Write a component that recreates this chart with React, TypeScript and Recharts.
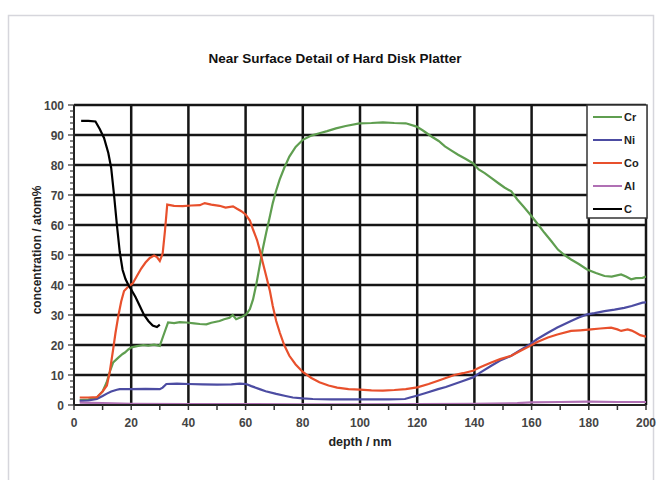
import React from 'react';
import { LineChart, Line, XAxis, YAxis, CartesianGrid, Customized } from 'recharts';

// ---- data (depth in nm, concentration in atom%) ----
const crDepth = [2, 5, 8, 10, 11.4, 12.5, 13.7, 15.5, 17, 17.8, 19, 20.1, 22, 24.2, 26, 28, 30, 31.2, 32.9, 35, 37, 39.3, 42, 44, 46.3, 48, 50.9, 52.5, 54.4, 55.5, 56.7, 58.5, 60.2, 61.5, 62.6, 63.8, 64.9, 66, 67.2, 68.4, 69.5, 70.7, 71.9, 73.5, 75.3, 77.5, 80, 83, 85.8, 88.5, 91.6, 95, 99.8, 104, 108, 112, 116, 119.8, 122, 125, 127.5, 129.7, 132, 134.3, 137, 139.5, 141.5, 143.6, 146, 148.3, 150.5, 152.9, 155, 157.3, 159.5, 162, 164.5, 167, 169.2, 171.5, 173.8, 176.5, 179.4, 182.5, 185.5, 188, 191.3, 193, 194.8, 196.5, 198.8, 200];
const crValues = [1.6, 1.8, 2.5, 4.5, 7.5, 11, 14.2, 15.8, 17, 17.5, 18.5, 19.2, 19.6, 20, 19.8, 20.1, 19.7, 23, 27.5, 27.3, 27.6, 27.5, 27.2, 27, 26.9, 27.4, 28, 28.6, 29.1, 30, 28.6, 29.3, 30.2, 32, 35.2, 40.5, 46.3, 52, 57.4, 62.5, 67.3, 71.5, 75.1, 79, 82.8, 86, 88.4, 89.8, 90.6, 91.3, 92.2, 93, 93.9, 94, 94.2, 94, 93.9, 92.8, 91.5, 89.5, 88, 86.2, 84.8, 83.4, 82, 80.6, 78.5, 77.3, 75.6, 74, 72.5, 71.2, 68.5, 66, 63.5, 60.5, 57.4, 54.5, 51.8, 50, 48.5, 47, 45.2, 44, 43, 42.8, 43.5, 42.8, 41.9, 42.3, 42.4, 42.8];

const niDepth = [2, 5, 8, 10, 11.5, 13, 15, 16, 20, 25, 30, 31, 32.3, 36, 40, 45, 50, 55, 58, 60.2, 62, 64.9, 67, 70.7, 74, 76.5, 80, 83.5, 90, 100, 110, 115.7, 117.5, 119.8, 123, 127.3, 130, 133, 136, 139.5, 142, 145.9, 149, 152.9, 156, 159.5, 162, 165.7, 169, 173.8, 176.5, 179.4, 182, 185.5, 189, 192.4, 195, 198.8, 200];
const niValues = [1.4, 1.5, 2, 3, 3.8, 4.5, 5.1, 5.3, 5.3, 5.4, 5.3, 5.8, 7, 7.1, 7, 6.9, 6.8, 6.9, 7.1, 7, 6.3, 5.3, 4.6, 3.7, 3, 2.5, 2.2, 2, 1.9, 1.9, 1.9, 2, 2.5, 3.1, 4, 5.3, 6, 7, 8, 9.2, 10.8, 13.1, 14.8, 16.4, 18.3, 20.3, 22, 24.1, 25.8, 28, 29.2, 30.2, 30.6, 31.3, 31.8, 32.4, 33, 34.1, 34.2];

const coDepth = [2, 5, 8, 10, 11.5, 12.5, 13.7, 14.5, 15.5, 16.5, 17.5, 19, 20.5, 22, 23.5, 25, 26.5, 28, 29, 30, 31, 31.8, 32.6, 35, 38, 41, 44, 45.7, 48, 50.9, 53, 55.6, 57, 58.5, 60, 61.5, 62.6, 64, 65, 66, 67.2, 68.5, 69.5, 70.7, 72, 73.5, 75.3, 77.5, 80, 83, 85.8, 89, 92, 96, 100, 104, 108, 112, 116, 120, 124, 127.3, 130, 133, 136, 139.5, 142, 145.9, 149, 152.9, 156, 159.5, 162, 165.7, 169, 173.8, 177, 180.8, 184, 187.8, 190, 191.3, 193.6, 195, 196.5, 198, 200];
const coValues = [2.5, 2.5, 2.6, 4.5, 6.5, 11, 18.6, 24, 29.7, 34.5, 38, 39.5, 40.5, 43, 45.5, 47.5, 49, 49.8, 49.3, 48, 50.5, 58, 66.8, 66.4, 66.3, 66.5, 66.6, 67.3, 66.8, 66.4, 65.8, 66.2, 65.4, 64.6, 63.5, 61.5, 58.5, 55, 51.5, 47.5, 43, 38, 33, 28, 24, 20, 16.4, 13.5, 11, 9, 7.6, 6.5, 5.8, 5.3, 5.1, 4.9, 4.8, 5, 5.3, 5.9, 7, 8.1, 9, 10, 10.6, 11.4, 12.6, 14.2, 15.3, 16.4, 18, 19.7, 21, 22.5, 23.5, 24.7, 24.9, 25.2, 25.5, 25.8, 25.2, 24.7, 25.2, 24.8, 24.1, 23.3, 22.8];

const alDepth = [2, 10, 20, 40, 60, 80, 100, 120, 140, 155, 160, 170, 180, 190, 200];
const alValues = [0.8, 0.6, 0.4, 0.3, 0.3, 0.2, 0.2, 0.3, 0.4, 0.6, 0.9, 1, 1.1, 1, 1];

const cDepth = [2.5, 5, 7.5, 9, 10.5, 12, 13, 14, 15, 16, 17, 18, 19, 20, 21.5, 23, 24.5, 26, 27.5, 29, 30];
const cValues = [94.7, 94.7, 94.5, 92, 89, 84, 79, 70, 60, 51, 45, 42, 40, 38.5, 36, 33, 30, 28, 26.5, 26, 26.8];

const seriesNames = ['Cr', 'Ni', 'Co', 'Al', 'C'];
const seriesColors = ['#5f9e50', '#4c4ca2', '#e8502c', '#b070b4', '#000000'];

const xTicks = [0, 10, 20, 30, 40, 50, 60, 70, 80, 90, 100, 110, 120, 130, 140, 150, 160, 170, 180, 190, 200];
const xGrid = [20, 40, 60, 80, 100, 120, 140, 160, 180, 200];
const yTicks = Array.from({ length: 51 }, (_, i) => i * 2);
const yGrid = [10, 20, 30, 40, 50, 60, 70, 80, 90, 100];

const titleText = 'Near Surface Detail of Hard Disk Platter';
const xLabel = 'depth / nm';
const yLabel = 'concentration / atom%';

const toPoints = (ds: number[], vs: number[]) => ds.map((d, i) => ({ depth: d, value: vs[i] }));
const seriesData = [
  toPoints(crDepth, crValues),
  toPoints(niDepth, niValues),
  toPoints(coDepth, coValues),
  toPoints(alDepth, alValues),
  toPoints(cDepth, cValues),
];

const FONT = 'Liberation Sans, Arial, sans-serif';

const XTick = (props: any) => {
  const { x, y, payload } = props;
  const v = payload.value;
  const major = v % 20 === 0;
  return (
    <g>
      <line x1={x} y1={y} x2={x} y2={y + 5} stroke="#333" strokeWidth={1.5} />
      {major && (
        <text x={x} y={y + 22} textAnchor="middle" fontFamily={FONT} fontSize={12} fontWeight="bold" fill="#444">
          {v}
        </text>
      )}
    </g>
  );
};

const YTick = (props: any) => {
  const { x, y, payload } = props;
  const v = payload.value;
  const major = v % 10 === 0;
  return (
    <g>
      <line x1={x - (major ? 6 : 4)} y1={y} x2={x} y2={y} stroke="#333" strokeWidth={1.2} />
      {major && (
        <text x={x - 10} y={y + 4.5} textAnchor="end" fontFamily={FONT} fontSize={12} fontWeight="bold" fill="#444">
          {v}
        </text>
      )}
    </g>
  );
};

const Decorations = () => (
  <g>
    <rect x={8.5} y={15.5} width={645} height={500} fill="none" stroke="#d6d6dc" strokeWidth={1.5} />
    <text x={335} y={63} textAnchor="middle" fontFamily={FONT} fontSize={13.5} fontWeight="bold" fill="#111">
      {titleText}
    </text>
    <text x={360} y={446} textAnchor="middle" fontFamily={FONT} fontSize={12.5} fontWeight="bold" fill="#222">
      {xLabel}
    </text>
    <text
      x={0}
      y={0}
      transform="translate(41,250) rotate(-90)"
      textAnchor="middle"
      fontFamily={FONT}
      fontSize={12}
      fontWeight="bold"
      fill="#222"
    >
      {yLabel}
    </text>
    <g>
      <rect x={587} y={105} width={60} height={113} fill="#ffffff" stroke="#333" strokeWidth={1.5} />
      {seriesNames.map((name, i) => (
        <g key={name}>
          <line x1={593} y1={117 + i * 23} x2={622} y2={117 + i * 23} stroke={seriesColors[i]} strokeWidth={2} />
          <text x={624} y={121 + i * 23} fontFamily={FONT} fontSize={11} fontWeight="bold" fill="#222">
            {name}
          </text>
        </g>
      ))}
    </g>
  </g>
);

export default function App() {
  return (
    <div style={{ position: 'absolute', left: 0, top: 0, width: 666, height: 480, background: '#fff' }}>
      <LineChart width={666} height={480} margin={{ top: 105, right: 20, bottom: 45, left: 0 }}>
        <CartesianGrid
          horizontalValues={yGrid}
          verticalValues={xGrid}
          stroke="#151515"
          strokeWidth={2.5}
        />
        <XAxis
          dataKey="depth"
          type="number"
          domain={[0, 200]}
          ticks={xTicks}
          interval={0}
          allowDataOverflow
          height={30}
          tickSize={0}
          tickMargin={0}
          tickLine={false}
          tick={<XTick />}
          axisLine={{ stroke: '#222', strokeWidth: 2 }}
        />
        <YAxis
          type="number"
          domain={[0, 100]}
          ticks={yTicks}
          interval={0}
          allowDataOverflow
          width={74}
          tickSize={0}
          tickMargin={0}
          tickLine={false}
          tick={<YTick />}
          axisLine={{ stroke: '#222', strokeWidth: 2 }}
        />
        {seriesData.map((pts, i) => (
          <Line
            key={seriesNames[i]}
            data={pts}
            dataKey="value"
            name={seriesNames[i]}
            type="linear"
            stroke={seriesColors[i]}
            strokeWidth={2.2}
            dot={false}
            isAnimationActive={false}
          />
        ))}
        <Customized component={Decorations} />
      </LineChart>
    </div>
  );
}
